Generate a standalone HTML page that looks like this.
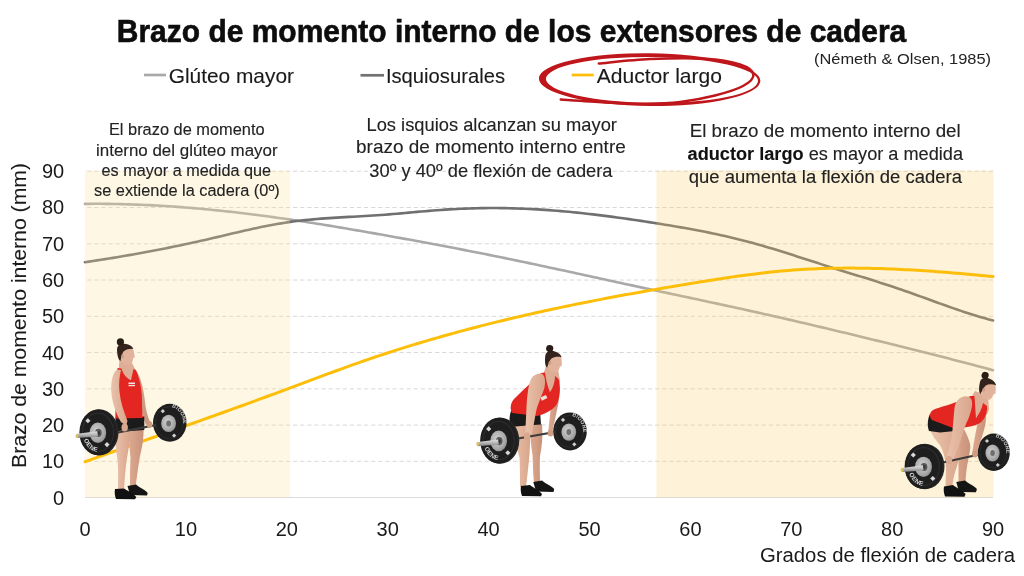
<!DOCTYPE html>
<html><head><meta charset="utf-8">
<style>
html,body{margin:0;padding:0;background:#fff;width:1024px;height:576px;overflow:hidden}
svg{display:block;font-family:"Liberation Sans",sans-serif;will-change:transform}
</style></head><body>
<svg width="1024" height="576" viewBox="0 0 1024 576">
<rect width="1024" height="576" fill="#fff"/>
<!-- shaded regions -->

<!-- grid -->
<g stroke="#d9d9d9" stroke-width="1" stroke-dasharray="4.3 2.8" stroke-dashoffset="5"><line x1="85" x2="993" y1="461.34" y2="461.34"/><line x1="85" x2="993" y1="425.08" y2="425.08"/><line x1="85" x2="993" y1="388.82" y2="388.82"/><line x1="85" x2="993" y1="352.56" y2="352.56"/><line x1="85" x2="993" y1="316.30" y2="316.30"/><line x1="85" x2="993" y1="280.04" y2="280.04"/><line x1="85" x2="993" y1="243.78" y2="243.78"/><line x1="85" x2="993" y1="207.52" y2="207.52"/><line x1="85" x2="993" y1="171.26" y2="171.26"/></g>
<line x1="85" x2="993" y1="497.5" y2="497.5" stroke="#dcdcdc" stroke-width="1.2"/>
<!-- curves -->
<g fill="none" stroke-width="2.6" stroke-linecap="round" stroke-linejoin="round">
<path d="M85.0,203.88 L89.0,203.84 L93.0,203.82 L97.0,203.81 L101.0,203.82 L105.0,203.85 L109.0,203.89 L113.0,203.95 L117.0,204.02 L121.0,204.11 L125.0,204.21 L129.0,204.33 L133.0,204.46 L137.0,204.61 L141.0,204.77 L145.0,204.94 L149.0,205.13 L153.0,205.33 L157.0,205.55 L161.0,205.78 L165.0,206.03 L169.0,206.28 L173.0,206.55 L177.0,206.84 L181.0,207.13 L185.0,207.44 L189.0,207.76 L193.0,208.10 L197.0,208.44 L201.0,208.80 L205.0,209.17 L209.0,209.55 L213.0,209.95 L217.0,210.35 L221.0,210.77 L225.0,211.19 L229.0,211.63 L233.0,212.08 L237.0,212.54 L241.0,213.01 L245.0,213.49 L249.0,213.98 L253.0,214.48 L257.0,214.99 L261.0,215.50 L265.0,216.03 L269.0,216.57 L273.0,217.12 L277.0,217.67 L281.0,218.24 L285.0,218.81 L289.0,219.39 L293.0,219.98 L297.0,220.58 L301.0,221.19 L305.0,221.80 L309.0,222.42 L313.0,223.05 L317.0,223.68 L321.0,224.32 L325.0,224.97 L329.0,225.63 L333.0,226.28 L337.0,226.95 L341.0,227.62 L345.0,228.30 L349.0,228.98 L353.0,229.66 L357.0,230.35 L361.0,231.04 L365.0,231.74 L369.0,232.44 L373.0,233.14 L377.0,233.85 L381.0,234.56 L385.0,235.27 L389.0,235.98 L393.0,236.70 L397.0,237.42 L401.0,238.14 L405.0,238.86 L409.0,239.59 L413.0,240.32 L417.0,241.06 L421.0,241.79 L425.0,242.53 L429.0,243.28 L433.0,244.02 L437.0,244.77 L441.0,245.53 L445.0,246.29 L449.0,247.05 L453.0,247.81 L457.0,248.58 L461.0,249.35 L465.0,250.13 L469.0,250.91 L473.0,251.70 L477.0,252.49 L481.0,253.28 L485.0,254.08 L489.0,254.88 L493.0,255.68 L497.0,256.50 L501.0,257.31 L505.0,258.13 L509.0,258.96 L513.0,259.78 L517.0,260.62 L521.0,261.45 L525.0,262.29 L529.0,263.14 L533.0,263.98 L537.0,264.83 L541.0,265.69 L545.0,266.54 L549.0,267.40 L553.0,268.26 L557.0,269.12 L561.0,269.98 L565.0,270.85 L569.0,271.72 L573.0,272.59 L577.0,273.45 L581.0,274.33 L585.0,275.20 L589.0,276.07 L593.0,276.94 L597.0,277.81 L601.0,278.68 L605.0,279.55 L609.0,280.43 L613.0,281.30 L617.0,282.16 L621.0,283.03 L625.0,283.90 L629.0,284.77 L633.0,285.63 L637.0,286.49 L641.0,287.36 L645.0,288.22 L649.0,289.08 L653.0,289.94 L657.0,290.80 L661.0,291.65 L665.0,292.51 L669.0,293.36 L673.0,294.22 L677.0,295.07 L681.0,295.93 L685.0,296.78 L689.0,297.63 L693.0,298.49 L697.0,299.34 L701.0,300.20 L705.0,301.06 L709.0,301.92 L713.0,302.78 L717.0,303.64 L721.0,304.50 L725.0,305.37 L729.0,306.23 L733.0,307.10 L737.0,307.98 L741.0,308.85 L745.0,309.73 L749.0,310.61 L753.0,311.50 L757.0,312.39 L761.0,313.28 L765.0,314.18 L769.0,315.08 L773.0,315.98 L777.0,316.89 L781.0,317.80 L785.0,318.72 L789.0,319.64 L793.0,320.56 L797.0,321.49 L801.0,322.42 L805.0,323.35 L809.0,324.29 L813.0,325.23 L817.0,326.17 L821.0,327.12 L825.0,328.06 L829.0,329.02 L833.0,329.97 L837.0,330.93 L841.0,331.89 L845.0,332.85 L849.0,333.81 L853.0,334.78 L857.0,335.75 L861.0,336.72 L865.0,337.69 L869.0,338.67 L873.0,339.64 L877.0,340.62 L881.0,341.60 L885.0,342.58 L889.0,343.56 L893.0,344.55 L897.0,345.54 L901.0,346.53 L905.0,347.52 L909.0,348.51 L913.0,349.51 L917.0,350.51 L921.0,351.51 L925.0,352.51 L929.0,353.52 L933.0,354.53 L937.0,355.55 L941.0,356.57 L945.0,357.59 L949.0,358.61 L953.0,359.64 L957.0,360.68 L961.0,361.72 L965.0,362.76 L969.0,363.81 L973.0,364.86 L977.0,365.92 L981.0,366.98 L985.0,368.05 L989.0,369.12 L993.0,370.20" stroke="#a8a8a8"/>
<path d="M85.0,262.19 L89.0,261.60 L93.0,261.00 L97.0,260.39 L101.0,259.77 L105.0,259.14 L109.0,258.50 L113.0,257.85 L117.0,257.19 L121.0,256.52 L125.0,255.84 L129.0,255.15 L133.0,254.45 L137.0,253.74 L141.0,253.01 L145.0,252.28 L149.0,251.53 L153.0,250.78 L157.0,250.01 L161.0,249.23 L165.0,248.44 L169.0,247.64 L173.0,246.83 L177.0,246.01 L181.0,245.17 L185.0,244.32 L189.0,243.46 L193.0,242.59 L197.0,241.70 L201.0,240.81 L205.0,239.90 L209.0,238.98 L213.0,238.05 L217.0,237.11 L221.0,236.17 L225.0,235.22 L229.0,234.28 L233.0,233.34 L237.0,232.41 L241.0,231.49 L245.0,230.57 L249.0,229.68 L253.0,228.80 L257.0,227.94 L261.0,227.10 L265.0,226.29 L269.0,225.51 L273.0,224.75 L277.0,224.03 L281.0,223.35 L285.0,222.71 L289.0,222.10 L293.0,221.55 L297.0,221.03 L301.0,220.55 L305.0,220.12 L309.0,219.71 L313.0,219.34 L317.0,218.99 L321.0,218.67 L325.0,218.38 L329.0,218.10 L333.0,217.84 L337.0,217.59 L341.0,217.36 L345.0,217.13 L349.0,216.91 L353.0,216.69 L357.0,216.47 L361.0,216.25 L365.0,216.02 L369.0,215.78 L373.0,215.53 L377.0,215.26 L381.0,214.98 L385.0,214.68 L389.0,214.36 L393.0,214.03 L397.0,213.69 L401.0,213.34 L405.0,212.98 L409.0,212.62 L413.0,212.26 L417.0,211.90 L421.0,211.54 L425.0,211.19 L429.0,210.86 L433.0,210.53 L437.0,210.22 L441.0,209.93 L445.0,209.66 L449.0,209.41 L453.0,209.18 L457.0,208.97 L461.0,208.78 L465.0,208.62 L469.0,208.47 L473.0,208.35 L477.0,208.24 L481.0,208.16 L485.0,208.10 L489.0,208.07 L493.0,208.05 L497.0,208.06 L501.0,208.10 L505.0,208.15 L509.0,208.23 L513.0,208.33 L517.0,208.45 L521.0,208.59 L525.0,208.76 L529.0,208.94 L533.0,209.15 L537.0,209.37 L541.0,209.61 L545.0,209.88 L549.0,210.16 L553.0,210.46 L557.0,210.78 L561.0,211.11 L565.0,211.47 L569.0,211.83 L573.0,212.22 L577.0,212.62 L581.0,213.04 L585.0,213.47 L589.0,213.92 L593.0,214.38 L597.0,214.85 L601.0,215.34 L605.0,215.84 L609.0,216.36 L613.0,216.88 L617.0,217.42 L621.0,217.97 L625.0,218.53 L629.0,219.10 L633.0,219.69 L637.0,220.28 L641.0,220.88 L645.0,221.49 L649.0,222.11 L653.0,222.74 L657.0,223.38 L661.0,224.02 L665.0,224.67 L669.0,225.33 L673.0,226.00 L677.0,226.68 L681.0,227.37 L685.0,228.08 L689.0,228.80 L693.0,229.53 L697.0,230.28 L701.0,231.05 L705.0,231.84 L709.0,232.64 L713.0,233.47 L717.0,234.31 L721.0,235.18 L725.0,236.08 L729.0,236.99 L733.0,237.94 L737.0,238.91 L741.0,239.90 L745.0,240.93 L749.0,241.99 L753.0,243.07 L757.0,244.18 L761.0,245.32 L765.0,246.49 L769.0,247.67 L773.0,248.87 L777.0,250.09 L781.0,251.33 L785.0,252.58 L789.0,253.84 L793.0,255.11 L797.0,256.39 L801.0,257.68 L805.0,258.97 L809.0,260.26 L813.0,261.55 L817.0,262.84 L821.0,264.13 L825.0,265.41 L829.0,266.69 L833.0,267.95 L837.0,269.20 L841.0,270.45 L845.0,271.69 L849.0,272.92 L853.0,274.16 L857.0,275.39 L861.0,276.62 L865.0,277.86 L869.0,279.10 L873.0,280.35 L877.0,281.62 L881.0,282.89 L885.0,284.18 L889.0,285.48 L893.0,286.81 L897.0,288.15 L901.0,289.51 L905.0,290.90 L909.0,292.31 L913.0,293.74 L917.0,295.17 L921.0,296.62 L925.0,298.07 L929.0,299.53 L933.0,300.99 L937.0,302.44 L941.0,303.88 L945.0,305.32 L949.0,306.74 L953.0,308.14 L957.0,309.52 L961.0,310.88 L965.0,312.21 L969.0,313.51 L973.0,314.78 L977.0,316.01 L981.0,317.20 L985.0,318.34 L989.0,319.44 L993.0,320.48" stroke="#707070"/>
</g>
<rect x="85" y="170.5" width="205" height="327" fill="rgb(251,223,148)" opacity="0.253"/>
<rect x="656.5" y="170.5" width="337" height="327" fill="rgb(251,208,101)" opacity="0.253"/>
<path d="M85.0,461.77 L89.0,460.33 L93.0,458.89 L97.0,457.46 L101.0,456.02 L105.0,454.59 L109.0,453.16 L113.0,451.73 L117.0,450.30 L121.0,448.88 L125.0,447.45 L129.0,446.03 L133.0,444.60 L137.0,443.18 L141.0,441.76 L145.0,440.33 L149.0,438.91 L153.0,437.49 L157.0,436.07 L161.0,434.65 L165.0,433.22 L169.0,431.80 L173.0,430.38 L177.0,428.95 L181.0,427.53 L185.0,426.10 L189.0,424.68 L193.0,423.25 L197.0,421.82 L201.0,420.39 L205.0,418.96 L209.0,417.53 L213.0,416.10 L217.0,414.66 L221.0,413.22 L225.0,411.78 L229.0,410.34 L233.0,408.90 L237.0,407.45 L241.0,406.00 L245.0,404.55 L249.0,403.09 L253.0,401.64 L257.0,400.18 L261.0,398.71 L265.0,397.25 L269.0,395.78 L273.0,394.31 L277.0,392.83 L281.0,391.35 L285.0,389.87 L289.0,388.38 L293.0,386.89 L297.0,385.39 L301.0,383.89 L305.0,382.40 L309.0,380.90 L313.0,379.40 L317.0,377.91 L321.0,376.41 L325.0,374.93 L329.0,373.44 L333.0,371.97 L337.0,370.50 L341.0,369.04 L345.0,367.58 L349.0,366.14 L353.0,364.71 L357.0,363.30 L361.0,361.89 L365.0,360.51 L369.0,359.13 L373.0,357.77 L377.0,356.42 L381.0,355.09 L385.0,353.77 L389.0,352.47 L393.0,351.18 L397.0,349.90 L401.0,348.63 L405.0,347.38 L409.0,346.14 L413.0,344.92 L417.0,343.70 L421.0,342.50 L425.0,341.32 L429.0,340.14 L433.0,338.98 L437.0,337.82 L441.0,336.69 L445.0,335.56 L449.0,334.44 L453.0,333.34 L457.0,332.24 L461.0,331.16 L465.0,330.09 L469.0,329.03 L473.0,327.98 L477.0,326.94 L481.0,325.91 L485.0,324.90 L489.0,323.89 L493.0,322.89 L497.0,321.91 L501.0,320.93 L505.0,319.96 L509.0,319.00 L513.0,318.06 L517.0,317.12 L521.0,316.19 L525.0,315.27 L529.0,314.36 L533.0,313.45 L537.0,312.56 L541.0,311.68 L545.0,310.80 L549.0,309.93 L553.0,309.07 L557.0,308.22 L561.0,307.38 L565.0,306.54 L569.0,305.71 L573.0,304.89 L577.0,304.08 L581.0,303.27 L585.0,302.47 L589.0,301.68 L593.0,300.89 L597.0,300.12 L601.0,299.35 L605.0,298.58 L609.0,297.82 L613.0,297.07 L617.0,296.32 L621.0,295.58 L625.0,294.85 L629.0,294.12 L633.0,293.40 L637.0,292.68 L641.0,291.97 L645.0,291.26 L649.0,290.56 L653.0,289.86 L657.0,289.17 L661.0,288.48 L665.0,287.80 L669.0,287.12 L673.0,286.45 L677.0,285.78 L681.0,285.11 L685.0,284.45 L689.0,283.79 L693.0,283.14 L697.0,282.49 L701.0,281.84 L705.0,281.20 L709.0,280.56 L713.0,279.93 L717.0,279.30 L721.0,278.68 L725.0,278.07 L729.0,277.48 L733.0,276.89 L737.0,276.31 L741.0,275.75 L745.0,275.20 L749.0,274.66 L753.0,274.15 L757.0,273.65 L761.0,273.16 L765.0,272.70 L769.0,272.26 L773.0,271.84 L777.0,271.44 L781.0,271.06 L785.0,270.71 L789.0,270.39 L793.0,270.09 L797.0,269.81 L801.0,269.55 L805.0,269.32 L809.0,269.10 L813.0,268.91 L817.0,268.74 L821.0,268.59 L825.0,268.47 L829.0,268.36 L833.0,268.27 L837.0,268.20 L841.0,268.15 L845.0,268.12 L849.0,268.11 L853.0,268.11 L857.0,268.14 L861.0,268.18 L865.0,268.23 L869.0,268.30 L873.0,268.39 L877.0,268.50 L881.0,268.62 L885.0,268.75 L889.0,268.90 L893.0,269.06 L897.0,269.24 L901.0,269.43 L905.0,269.63 L909.0,269.84 L913.0,270.07 L917.0,270.31 L921.0,270.56 L925.0,270.82 L929.0,271.09 L933.0,271.37 L937.0,271.67 L941.0,271.97 L945.0,272.28 L949.0,272.60 L953.0,272.92 L957.0,273.26 L961.0,273.60 L965.0,273.95 L969.0,274.31 L973.0,274.67 L977.0,275.04 L981.0,275.41 L985.0,275.79 L989.0,276.18 L993.0,276.57" fill="none" stroke-width="3.0" stroke-linecap="round" stroke="#fdbe0a"/>
<!-- axis labels -->
<g font-size="20" fill="#1a1a1a" text-anchor="end"><text x="64.2" y="504.5">0</text><text x="64.2" y="468.2">10</text><text x="64.2" y="432.0">20</text><text x="64.2" y="395.7">30</text><text x="64.2" y="359.5">40</text><text x="64.2" y="323.2">50</text><text x="64.2" y="286.9">60</text><text x="64.2" y="250.7">70</text><text x="64.2" y="214.4">80</text><text x="64.2" y="178.2">90</text></g>
<g font-size="20" fill="#1a1a1a" text-anchor="middle"><text x="85.0" y="535.6">0</text><text x="185.9" y="535.6">10</text><text x="286.8" y="535.6">20</text><text x="387.7" y="535.6">30</text><text x="488.6" y="535.6">40</text><text x="589.5" y="535.6">50</text><text x="690.4" y="535.6">60</text><text x="791.3" y="535.6">70</text><text x="892.2" y="535.6">80</text><text x="993.1" y="535.6">90</text></g>
<text x="760" y="562.4" font-size="20" fill="#1a1a1a" textLength="255" lengthAdjust="spacingAndGlyphs">Grados de flexión de cadera</text>
<text transform="translate(26.3,468) rotate(-90)" x="0" y="0" font-size="20" fill="#1a1a1a" stroke="#1a1a1a" stroke-width="0.1" textLength="305" lengthAdjust="spacingAndGlyphs">Brazo de momento interno (mm)</text>
<!-- title -->
<text x="116.8" y="41.8" font-size="31" font-weight="bold" fill="#0d0d0d" stroke="#0d0d0d" stroke-width="0.6" textLength="789.5" lengthAdjust="spacingAndGlyphs">Brazo de momento interno de los extensores de cadera</text>
<text x="814" y="63.6" font-size="15.4" fill="#222" textLength="177" lengthAdjust="spacingAndGlyphs">(Németh &amp; Olsen, 1985)</text>
<!-- legend -->
<g stroke-width="2.7">
<line x1="144" x2="166" y1="75" y2="75" stroke="#a9a9a9"/>
<line x1="360.5" x2="384" y1="75.3" y2="75.3" stroke="#727272"/>
<line x1="571.7" x2="593.7" y1="75" y2="75" stroke="#fdbe0a"/>
</g>
<g font-size="20.2" fill="#1a1a1a" stroke="#1a1a1a" stroke-width="0.12">
<text x="168.7" y="82.5" textLength="125.3" lengthAdjust="spacingAndGlyphs">Glúteo mayor</text>
<text x="385.9" y="82.5" textLength="119.1" lengthAdjust="spacingAndGlyphs">Isquiosurales</text>
<text x="596.8" y="82.5" textLength="125.2" lengthAdjust="spacingAndGlyphs">Aductor largo</text>
</g>
<!-- red ellipse -->
<g fill="none" stroke="#bf161c" stroke-linecap="round">
<path d="M538.90,79.65 A110.75,26.35 0 1,0 760.40,79.65 A110.75,26.35 0 1,0 538.90,79.65 Z M545.90,79.95 A106.05,22.94 0 1,0 758.00,79.95 A106.05,22.94 0 1,0 545.90,79.95 Z" fill="#bf161c" stroke="none" fill-rule="evenodd" transform="rotate(0.6 650 80)"/>
<path d="M598.8,63.5 C607.3,62.8 632.3,59.9 650.0,59.1 C667.7,58.3 690.0,57.9 705.0,58.8 C720.0,59.7 731.9,61.9 740.0,64.5 C748.1,67.1 752.9,70.9 753.4,74.5 C753.9,78.1 749.4,82.5 743.0,86.0 C736.6,89.5 725.5,92.8 715.0,95.5 C704.5,98.2 691.9,100.5 680.2,101.9 C668.5,103.3 657.5,103.6 645.0,103.7 C632.5,103.8 619.0,103.2 605.0,102.5 C591.0,101.8 568.2,100.1 560.8,99.6" stroke-width="2.5"/>
</g>
<!-- annotations -->
<g font-size="16.3" fill="#222" stroke="#222" stroke-width="0.12" text-anchor="middle">
<text x="186.8" y="135.3" textLength="155.7" lengthAdjust="spacingAndGlyphs">El brazo de momento</text>
<text x="186.8" y="155.8" textLength="181.6" lengthAdjust="spacingAndGlyphs">interno del glúteo mayor</text>
<text x="186.3" y="175.5" textLength="169.5" lengthAdjust="spacingAndGlyphs">es mayor a medida que</text>
<text x="186.9" y="196" textLength="185.8" lengthAdjust="spacingAndGlyphs">se extiende la cadera (0º)</text>
</g>
<g font-size="19" fill="#222" stroke="#222" stroke-width="0.12" text-anchor="middle">
<text x="491.7" y="130.8" textLength="250.5" lengthAdjust="spacingAndGlyphs">Los isquios alcanzan su mayor</text>
<text x="490.9" y="153.3" textLength="269.7" lengthAdjust="spacingAndGlyphs">brazo de momento interno entre</text>
<text x="490.9" y="176.8" textLength="243.2" lengthAdjust="spacingAndGlyphs">30º y 40º de flexión de cadera</text>
</g>
<g font-size="18.7" fill="#222" stroke="#222" stroke-width="0.12" text-anchor="middle">
<text x="825.2" y="137.2" textLength="270.9" lengthAdjust="spacingAndGlyphs">El brazo de momento interno del</text>
<text x="825.3" y="160" textLength="275.4" lengthAdjust="spacingAndGlyphs"><tspan font-weight="bold" fill="#111" stroke="#111">aductor largo</tspan> es mayor a medida</text>
<text x="825.4" y="182.7" textLength="273.2" lengthAdjust="spacingAndGlyphs">que aumenta la flexión de cadera</text>
</g>
<!-- figures -->
<defs>
<radialGradient id="hub" cx="0.42" cy="0.42" r="0.65"><stop offset="0" stop-color="#cfcfcf"/><stop offset="0.7" stop-color="#a9a9a9"/><stop offset="1" stop-color="#8a8a8a"/></radialGradient>
<linearGradient id="sleeve" x1="0" y1="0" x2="0" y2="1"><stop offset="0" stop-color="#e2e2e2"/><stop offset="0.5" stop-color="#b8b8b8"/><stop offset="1" stop-color="#7d7d7d"/></linearGradient>
<linearGradient id="skinL" x1="0" y1="0" x2="1" y2="0"><stop offset="0" stop-color="#e9c2ab"/><stop offset="1" stop-color="#d9a58b"/></linearGradient>
<linearGradient id="skinD" x1="0" y1="0" x2="1" y2="0"><stop offset="0" stop-color="#dcaa90"/><stop offset="1" stop-color="#c8927a"/></linearGradient>
<g id="fplate">
  <ellipse cx="0.8" cy="0" rx="19.3" ry="23.2" fill="#272727"/>
  <ellipse cx="-0.4" cy="0" rx="18.6" ry="22.9" fill="#1e1e1e"/>
  <ellipse cx="-0.4" cy="0" rx="15.5" ry="19.2" fill="none" stroke="#2c2c2c" stroke-width="1.2"/>
  <ellipse cx="-0.5" cy="0.3" rx="8.3" ry="10.3" fill="url(#hub)"/>
  <ellipse cx="0" cy="0.5" rx="3.3" ry="4.1" fill="#575757"/>
  <ellipse cx="0" cy="0.5" rx="1.5" ry="1.9" fill="#333"/>
  <rect x="-12.3" y="-13.5" width="3.6" height="3.6" fill="#d8d8d8" transform="rotate(45 -10.5 -11.7)"/>
  <rect x="6.8" y="10.4" width="3.6" height="3.6" fill="#d8d8d8" transform="rotate(45 8.6 12.2)"/>
  <path id="fparc" d="M-14.8,6.5 A16,19.8 0 0,0 10,15.5" fill="none"/>
  <text font-family="Liberation Sans" font-weight="bold" font-size="6.2" fill="#d6d6d6" letter-spacing="0.3"><textPath href="#fparc" startOffset="1">OENE</textPath></text>
  <path d="M-21.6,1.4 L-1,-1.2 L-0.5,4 L-21.4,5.6 Z" fill="url(#sleeve)"/>
  <ellipse cx="-21.4" cy="3.5" rx="1.5" ry="2" fill="#d7bf6a"/>
</g>
<g id="bplate">
  <ellipse cx="0" cy="0" rx="16.8" ry="19" fill="#1e1e1e"/>
  <ellipse cx="-0.4" cy="0" rx="14" ry="16" fill="none" stroke="#2b2b2b" stroke-width="1"/>
  <ellipse cx="-1.2" cy="0.7" rx="7.4" ry="8.7" fill="url(#hub)"/>
  <ellipse cx="-1.2" cy="0.7" rx="2.4" ry="3" fill="#6f6f6f"/>
  <rect x="-8.5" y="-13" width="3" height="3" fill="#cfcfcf" transform="rotate(45 -7 -11.5)"/>
  <rect x="2.8" y="11.4" width="3" height="3" fill="#cfcfcf" transform="rotate(45 4.3 12.9)"/>
  <path id="bparc" d="M2,-15.5 A13.8,16.6 0 0,1 12.6,6" fill="none"/>
  <text font-family="Liberation Sans" font-weight="bold" font-size="5.2" fill="#cdcdcd" letter-spacing="0.2"><textPath href="#bparc" startOffset="0">BIOONE</textPath></text>
</g>
<g id="head">
  <path d="M121,349 L132.5,348 C134,351 134.3,354 134.8,357.2 L133,358.5 C133,361 132,363.5 130.5,364.6 C127,365.2 124,364.5 121.5,362 Z" fill="#e2b39c"/>
  <path d="M117,349.5 C117,345.5 120.5,343.5 124.5,343.8 C128.5,344.2 132,346 133.5,348.8 C130,348.6 126,349.2 123.5,351.5 C122,353.5 121.5,357 120.5,361 C118.5,360 117.2,356 117,349.5 Z" fill="#33231c"/>
  <circle cx="120.4" cy="341.9" r="3.6" fill="#2a1c16"/>
  <ellipse cx="122.6" cy="356.2" rx="1.4" ry="2" fill="#cf9c84"/>
</g>
</defs>
<g id="fig1">
  <use href="#bplate" transform="translate(169.8 422.7)"/>
  <path d="M136,371 C141,376 144,392 145,402 C146,411 148,417 150,422 L146,425 C143,417 141,409 139,400 C137,391 135,382 133,376 Z" fill="url(#skinD)"/>
  <path d="M129,428 L143.5,427 C144,438 142,448 140,456 C138.5,464 137,476 135.5,487 L130,487 C130,478 130,468 130.5,458 C129.5,448 128.5,438 129,428 Z" fill="url(#skinD)"/>
  <path d="M115.5,429 L130,429 C130,440 128.5,450 127,458 C125.5,468 124.5,480 124,490 L118,490 C118,480 118.5,470 117.5,460 C116,450 115,440 115.5,429 Z" fill="url(#skinL)"/>
  <path d="M115.5,417.5 L144.3,416.5 L144.3,430 L131,431 L129,429.5 L115.5,431.5 Z" fill="#1b1b1b"/>
  <path d="M119.5,359 L131,361 L135.5,370 C133,383 124,385 118.5,372 Z" fill="#ddad95"/>
  <path d="M117.5,368 L121.5,368.5 C123,374 127,379 131,380 L133.5,369 L136,370 C139,377 142,388 142,400 C142,408 142.5,414 142.8,418 L115.3,418.5 C115,410 117,400 117,390 C116,382 116,374 117.5,368 Z" fill="#e42622"/>
  <rect x="128.5" y="382.5" width="6.5" height="1.6" fill="#f0e4de"/>
  <rect x="128.5" y="385" width="6.5" height="1.2" fill="#f0e4de"/>
  <use href="#head"/>
  <path d="M117,369.5 C112,373 110.5,384 111.5,394 C112.5,404 116.5,414 121,422 L126,426 L127.5,421 C124,412 120.5,402 119.5,392 C118.5,384 119.5,376 121,370 Z" fill="url(#skinL)"/>
  <line x1="118" y1="432.5" x2="156" y2="425" stroke="#3b3b3b" stroke-width="2.2"/>
  <ellipse cx="124.7" cy="427.5" rx="3.2" ry="4" fill="#d9a78d"/>
  <ellipse cx="149.5" cy="424.5" rx="2.8" ry="3.5" fill="#d09c82"/>
  <path d="M127.5,486 L136,484.5 C140,488 146,490 147.7,493 L147,495.5 L130,495 Z" fill="#151515"/>
  <path d="M115,489 L124,488.5 C128,491 134,494 136.3,497 L135,499.3 L116,499 C114.5,495 114.5,492 115,489 Z" fill="#111"/>
  <use href="#fplate" transform="translate(98.4 432.4)"/>
</g>
<g id="fig2">
  <use href="#bplate" transform="translate(570 431.4)"/>
  <path d="M556,379 C561,384 560,398 557,410 C555,420 553,428 552,434 L548,434 C549,425 550,415 551,405 C552,396 552,388 551,383 Z" fill="url(#skinD)"/>
  <path d="M530,424 L542,424 C543,436 542,446 540,456 C539.5,466 540,474 540,483 L534,483 C533,474 533,464 532.5,455 C531,446 530,436 530,424 Z" fill="url(#skinD)"/>
  <path d="M513,424 L530,425 C530.5,438 530,450 529,460 C528,470 527,478 526,487 L520,487 C520,478 520,468 519.5,458 C517,448 514,436 513,424 Z" fill="url(#skinL)"/>
  <path d="M511,411 L540,411 L541,424.5 L527,425.5 L510,427 C509,421 509.5,415 511,411 Z" fill="#1b1b1b"/>
  <path d="M546,366 L558,369 L560,381 C557,396 548,397 542,378 Z" fill="#ddad95"/>
  <path d="M541,373 L545,372.5 C546,380 548,388 550,392 C553,388 555,382 555,376 L558.5,379 C561,386 560,397 557,404 C553,410 545,414 537,416 L512,413 C510,409 510,404 514,399 C520,393 528,385 536,379 Z" fill="#e42622"/>
  <rect x="541" y="396" width="6" height="3.5" fill="#efe2dc" transform="rotate(-25 544 398)"/>
  <use href="#head" transform="translate(549.7 348.6) rotate(8) translate(-120.4 -341.9)"/>
  <path d="M541.4,373.6 C546,375 546,386 543,392 C540,400 537.5,405 536,412 C534.5,420 533,430 531,437 L525,436 C525.5,428 526,418 526.5,408 C527,398 528,386 531,379 C533,375.5 537,373.5 541.4,373.6 Z" fill="url(#skinL)"/>
  <line x1="518" y1="438.5" x2="555" y2="432" stroke="#3b3b3b" stroke-width="2.2"/>
  <ellipse cx="527" cy="436.5" rx="3.2" ry="4" fill="#d9a78d"/>
  <ellipse cx="550.5" cy="433" rx="2.8" ry="3.5" fill="#d09c82"/>
  <path d="M533.3,482 L542,480.5 C546,484 552,486 554.2,489 L553.5,492 L536,491.5 Z" fill="#151515"/>
  <path d="M521,486 L530,485 C534,488 540,491 542,494 L541,496.3 L522,496 C520.5,492 520.5,489 521,486 Z" fill="#111"/>
  <use href="#fplate" transform="translate(499.2 440.6)"/>
</g>
<g id="fig3">
  <use href="#bplate" transform="translate(993.7 452.3) scale(0.96 0.985)"/>
  <path d="M982,404 C987,408 987,420 984,430 C981,440 978,448 977,455 L972,455 C973,446 975,436 977,426 C979,418 979,412 978,407 Z" fill="url(#skinD)"/>
  <path d="M953,430 L964.5,430 C968,437 971,444 970.3,448 C969.5,455 967.5,462 966.5,470 C966,475 965.5,479 965.5,484 L958.5,484 C958.5,478 958.5,470 958.5,462 C958,455 955,445 953,430 Z" fill="url(#skinD)"/>
  <path d="M930.5,430 L953,431 C957,438 961,446 960.5,452 C959.5,460 956,468 954,476 C953,480 952.5,484 952.5,487 L945.5,487 C945.5,480 946,474 946,468 C945.5,460 944,452 940,445 C936,440 932,436 930.5,430 Z" fill="url(#skinL)"/>
  <path d="M930,414 L954,418 L955,431 L940,432.5 L929,431 C927,426 927.5,419 930,414 Z" fill="#1b1b1b"/>
  <path d="M975,391 L988,396 L989,409 C985,425 972,420 969,401 Z" fill="#ddad95"/>
  <path d="M970.5,396 L974.5,396 C975,404 975.5,412 976,418 C979,414 982,409 983,403 L987,406 C987.5,413 985,419 980,423 C974,427 962,428 953,428 L932,420 C929,417 929.5,412 933,410 C940,407 952,404 962,400 Z" fill="#e42622"/>
  <use href="#head" transform="translate(985.1 375.4) rotate(14) translate(-120.4 -341.9)"/>
  <path d="M965.6,396.3 C970,396.5 973,399 972,406 C971,412 969,418 966,424 C963,432 961,440 958,448 C956,453 954,458 952,462 L946,459 C948,452 950,446 951.5,438 C953,428 953.5,418 954.5,408 C955.5,401 960,396.5 965.6,396.3 Z" fill="url(#skinL)"/>
  <line x1="943" y1="462.5" x2="979" y2="454.5" stroke="#3b3b3b" stroke-width="2.2"/>
  <ellipse cx="949" cy="460" rx="3.2" ry="4" fill="#d9a78d"/>
  <ellipse cx="975" cy="454" rx="2.8" ry="3.5" fill="#d09c82"/>
  <path d="M956.3,482 L965,480.5 C969,484 975,486 976.9,489 L976,492.3 L959,492 Z" fill="#151515"/>
  <path d="M944,486.5 L953,485 C957,488 963,491 965.6,494 L964.5,496.8 L945,496.5 C943.5,492 943.5,489.5 944,486.5 Z" fill="#111"/>
  <use href="#fplate" transform="translate(924 466.5) scale(1.02 0.985)"/>
</g>

</svg>
</body></html>
